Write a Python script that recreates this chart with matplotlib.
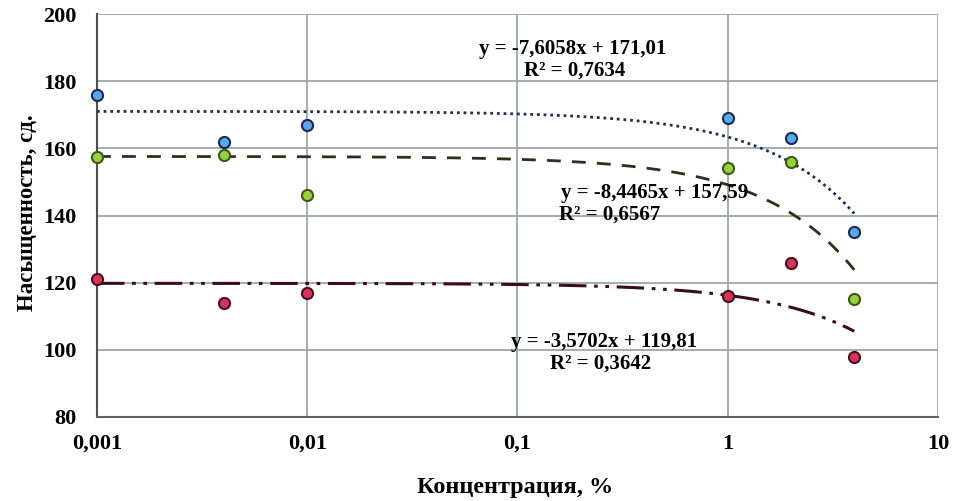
import matplotlib
matplotlib.use("Agg")
import matplotlib.pyplot as plt
import numpy as np

x_vals = [0.001, 0.004, 0.01, 1, 2, 4]
blue = [176, 162, 167, 169, 163, 135]
green = [157.5, 158, 146, 154, 156, 115]
red = [121, 114, 117, 116, 126, 98]

# linear trend lines (Excel-style) : slope, intercept
trend_blue = (-7.6058, 171.01)
trend_green = (-8.4465, 157.59)
trend_red = (-3.5702, 119.81)

eq_blue = ["y = -7,6058x + 171,01", "R² = 0,7634"]
eq_green = ["y = -8,4465x + 157,59", "R² = 0,6567"]
eq_red = ["y = -3,5702x + 119,81", "R² = 0,3642"]

xticks = [0.001, 0.01, 0.1, 1, 10]
xticklabels = ["0,001", "0,01", "0,1", "1", "10"]
yticks = [80, 100, 120, 140, 160, 180, 200]

plt.rcParams['font.family'] = ['Liberation Serif', 'DejaVu Serif']

fig = plt.figure(figsize=(9.6, 5.01), dpi=100)
ax = fig.add_axes([0.101, 0.1677, 0.876, 0.8043])
ax.set_xscale('log')
ax.set_xlim(0.001, 10)
ax.set_ylim(80, 200)

grid_c = '#9aa8a8'
ax.set_xticks(xticks)
ax.set_xticklabels(xticklabels)
ax.minorticks_off()
ax.set_yticks(yticks)
ax.grid(True, color=grid_c, linewidth=1.3)
ax.set_axisbelow(True)
for s in ['top', 'right']:
    ax.spines[s].set_visible(False)
ax.spines['bottom'].set_color('#606060')
ax.spines['left'].set_color('#505050')
ax.spines['bottom'].set_linewidth(1.5)
ax.spines['left'].set_linewidth(1.5)
ax.tick_params(length=0, labelsize=16)
ax.tick_params(axis='y', pad=15)
ax.tick_params(axis='x', pad=12)
for lab in ax.get_xticklabels() + ax.get_yticklabels():
    lab.set_fontweight('bold')

xs = np.logspace(np.log10(0.001), np.log10(4), 300)
ax.plot(xs, trend_blue[0] * xs + trend_blue[1], color='#1f3050', lw=2, linestyle=(0, (1, 1.4)), zorder=3)
ax.plot(xs, trend_green[0] * xs + trend_green[1], color='#2f2f1a', lw=2, linestyle=(0, (5, 4)), zorder=3)
ax.plot(xs, trend_red[0] * xs + trend_red[1], color='#3a0d18', lw=2.2,
        linestyle=(0, (9, 2.5, 1.2, 2.5, 1.2, 2.5)), zorder=3)

ms = 8
ax.plot(x_vals, blue, 'o', ms=ms, mfc='#5aa6e6', mec='#1a2a50', mew=1.5, zorder=4, clip_on=False)
ax.plot(x_vals, green, 'o', ms=ms, mfc='#98d040', mec='#3a5a1a', mew=1.5, zorder=4, clip_on=False)
ax.plot(x_vals, red, 'o', ms=ms, mfc='#d6345c', mec='#4a1020', mew=1.5, zorder=4, clip_on=False)

tk = dict(fontsize=15, fontweight='bold', ha='center', va='center', zorder=5)
fig.text(573 / 960, 1 - 49 / 501, eq_blue[0], **tk)
fig.text(575 / 960, 1 - 71 / 501, eq_blue[1], **tk)
fig.text(655 / 960, 1 - 193 / 501, eq_green[0], **tk)
fig.text(610 / 960, 1 - 215 / 501, eq_green[1], **tk)
fig.text(604 / 960, 1 - 342 / 501, eq_red[0], **tk)
fig.text(601 / 960, 1 - 364 / 501, eq_red[1], **tk)

fig.text(515 / 960, 1 - 487 / 501, 'Концентрация, %', fontsize=17.5, fontweight='bold',
         ha='center', va='center')
fig.text(27 / 960, 1 - 213 / 501, 'Насыщенность, сд.', fontsize=16.5, fontweight='bold',
         ha='center', va='center', rotation=90)

fig.savefig('out.png', dpi=100)
